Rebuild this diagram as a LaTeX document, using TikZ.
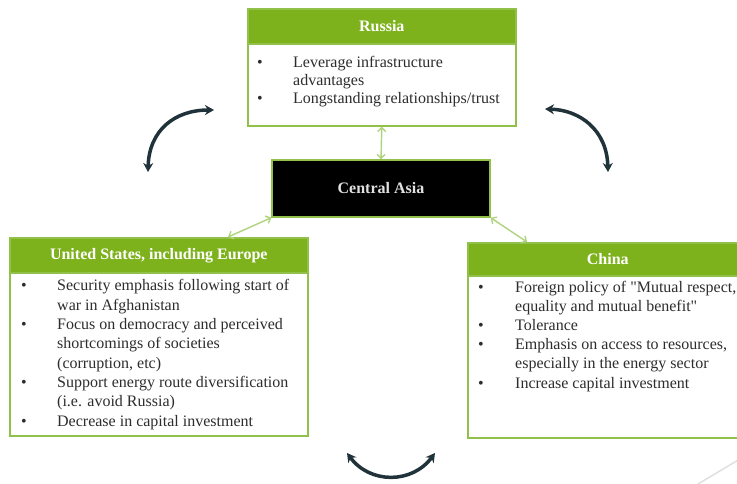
\documentclass[tikz,border=0pt]{standalone}
\usepackage{fontspec}
\setmainfont{Liberation Serif}
\usetikzlibrary{arrows.meta}
\definecolor{hdrgreen}{RGB}{125,178,28}
\definecolor{framegreen}{RGB}{145,192,75}
\definecolor{linkgreen}{RGB}{175,212,125}
\definecolor{darkarrow}{RGB}{32,50,58}
\definecolor{bodytext}{RGB}{45,45,45}
\newcommand{\bul}[1]{\makebox[#1][l]{\textbullet}}
\begin{document}
\begin{tikzpicture}[x=1pt,y=-1pt,
 frame/.style={draw=framegreen, line width=1.6pt, fill=white, inner sep=0pt, anchor=north west},
 hdr/.style={draw=framegreen, line width=1.6pt, fill=hdrgreen, inner sep=0pt, anchor=north west, text=white, font=\fontsize{16}{18}\selectfont\bfseries},
 body/.style={anchor=base west, inner sep=0pt, align=left, text=bodytext},
 link/.style={draw=linkgreen, line width=1.4pt, {Straight Barb[length=4pt,width=8pt]}-{Straight Barb[length=4pt,width=8pt]}},
 swing/.style={draw=darkarrow, line width=3.5pt, {Stealth[length=9pt,width=10pt]}-{Stealth[length=9pt,width=10pt]}}
]
\useasboundingbox (0,0) rectangle (737,483);
\clip (0,0) rectangle (737,483);
\fill[white] (0,0) rectangle (737,483);

% Russia
\node[frame, minimum width=268pt, minimum height=117pt] (russia) at (247,8) {};
\node[hdr, minimum width=268pt, minimum height=35pt] (russiaH) at (russia.north west) {Russia};
\node[body, font=\fontsize{16}{18.3}\selectfont] (russiaT) at (257,103.6)
 {\bul{36pt}Leverage infrastructure\\\hspace*{36pt}advantages\\\bul{36pt}Longstanding relationships/trust};

% Central Asia
\node[draw=framegreen, line width=1.4pt, fill=black, minimum width=218pt, minimum height=57pt,
 text=white!88!black, font=\fontsize{16}{18}\selectfont\bfseries] (ca) at (381,188.5) {Central Asia};

% United States
\node[frame, minimum width=298pt, minimum height=198pt] (us) at (9,237) {};
\node[hdr, minimum width=298pt, minimum height=35pt] (usH) at (us.north west) {United States, including Europe};
\node[body, font=\fontsize{16}{19.3}\selectfont] (usT) at (21,426)
 {\bul{36pt}Security emphasis following start of\\
  \hspace*{36pt}war in Afghanistan\\
  \bul{36pt}Focus on democracy and perceived\\
  \hspace*{36pt}shortcomings of societies\\
  \hspace*{36pt}(corruption, etc)\\
  \bul{36pt}Support energy route diversification\\
  \hspace*{36pt}(i.e. avoid Russia)\\
  \bul{36pt}Decrease in capital investment};

% China
\node[frame, minimum width=280pt, minimum height=195pt] (china) at (467,242) {};
\node[hdr, minimum width=280pt, minimum height=33pt] (chinaH) at (china.north west) {China};
\node[body, font=\fontsize{16}{19.2}\selectfont] (chinaT) at (478,388)
 {\bul{37pt}Foreign policy of \textquotedbl Mutual respect,\\
  \hspace*{37pt}equality and mutual benefit\textquotedbl\\
  \bul{37pt}Tolerance\\
  \bul{37pt}Emphasis on access to resources,\\
  \hspace*{37pt}especially in the energy sector\\
  \bul{37pt}Increase capital investment};

% green links
\draw[link] (russia.south) -- (ca.north);
\draw[link] ([xshift=219pt]us.north west) -- (ca.south west);
\draw[link] (ca.south east) -- ([xshift=60pt]china.north west);

% dark swing arrows
\coordinate (l1) at (148,172);
\coordinate (l2) at (214,110);
\coordinate (r1) at (545,109);
\coordinate (r2) at (608,172);
\coordinate (b1) at (347,453);
\coordinate (b2) at (435,453);
\draw[swing] (l1) .. controls (149,130) and (175,110) .. (l2);
\draw[swing] (r1) .. controls (580,110) and (607,130) .. (r2);
\draw[swing] (b1) .. controls (370,484) and (412,484) .. (b2);

% faint slide decoration
\coordinate (d1) at (698,484);
\coordinate (d2) at (740,459);
\draw[black!12, line width=1.5pt] (d1) -- (d2);
\end{tikzpicture}
\end{document}
